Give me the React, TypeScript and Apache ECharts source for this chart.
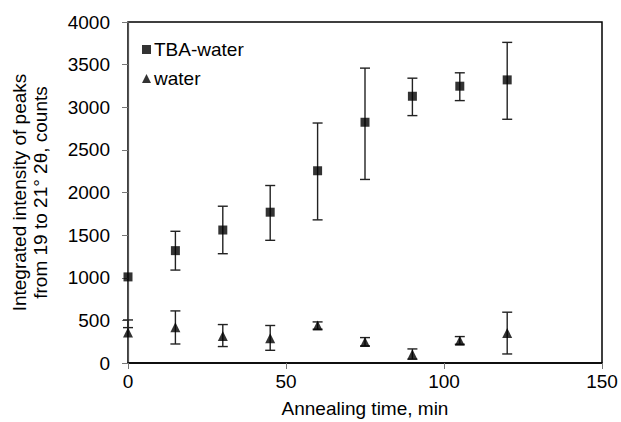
import React, { useEffect, useRef } from "react";
import * as echarts from "echarts";

const times = [0, 15, 30, 45, 60, 75, 90, 105, 120];
const tbaValues = [1010, 1318, 1560, 1769, 2255, 2824, 3129, 3247, 3321];
const tbaLow = [null, 1090, 1282, 1439, 1679, 2153, 2902, 3078, 2859];
const tbaHigh = [null, 1545, 1839, 2082, 2815, 3459, 3341, 3404, 3761];
const waterValues = [357, 420, 316, 290, 440, 247, 102, 262, 353];
const waterLow = [415, 223, 193, 149, 396, 200, 44, 220, 106];
const waterHigh = [505, 611, 451, 440, 482, 298, 165, 310, 596];
const xTicks = [0, 50, 100, 150];

const FONT = "Liberation Sans, Arial, sans-serif";
const FS = 19;

function errData(low: (number | null)[], high: (number | null)[]) {
  const out: number[][] = [];
  times.forEach((t, i) => {
    if (low[i] != null && high[i] != null) out.push([t, low[i] as number, high[i] as number]);
  });
  return out;
}

function errRender(params: any, api: any) {
  const x = api.value(0);
  const lo = api.coord([x, api.value(1)]);
  const hi = api.coord([x, api.value(2)]);
  const w = 5;
  const style = { stroke: "#222", lineWidth: 1.4 };
  return {
    type: "group",
    children: [
      { type: "line", shape: { x1: lo[0], y1: lo[1], x2: hi[0], y2: hi[1] }, style },
      { type: "line", shape: { x1: lo[0] - w, y1: lo[1], x2: lo[0] + w, y2: lo[1] }, style },
      { type: "line", shape: { x1: hi[0] - w, y1: hi[1], x2: hi[0] + w, y2: hi[1] }, style },
    ],
  };
}

export default function App() {
  const ref = useRef<HTMLDivElement>(null);
  useEffect(() => {
    const chart = echarts.init(ref.current!, null, { renderer: "svg" });
    chart.setOption({
      animation: false,
      backgroundColor: "#fff",
      textStyle: { fontFamily: FONT },
      grid: {
        left: 128,
        right: 19,
        top: 22,
        bottom: 59,
        show: true,
        borderColor: "#000",
        borderWidth: 1.5,
        containLabel: false,
        outerBoundsMode: "none",
      },
      legend: {
        left: 137,
        top: 35,
        orient: "vertical",
        itemGap: 10,
        itemWidth: 9,
        itemHeight: 9,
        textStyle: { fontSize: FS, color: "#000", fontFamily: FONT, padding: [0, 0, 0, -2] },
        data: [
          { name: "TBA-water", icon: "rect" },
          { name: "water", icon: "triangle" },
        ],
      },
      xAxis: {
        type: "value",
        min: 0,
        max: 150,
        interval: 50,
        name: "Annealing time, min",
        nameLocation: "middle",
        nameGap: 36,
        nameTextStyle: { fontSize: FS, color: "#000", fontFamily: FONT },
        axisLine: { show: true, onZero: false, lineStyle: { color: "#000", width: 1.5 } },
        axisTick: { show: true, inside: false, length: 6, lineStyle: { color: "#777" } },
        axisLabel: {
          fontSize: FS,
          color: "#000",
          margin: 9,
          fontFamily: FONT,
          customValues: xTicks,
          formatter: (v: number) => String(v),
        },
        splitLine: { show: false },
      },
      yAxis: {
        type: "value",
        min: 0,
        max: 4000,
        interval: 500,
        name: "Integrated intensity of peaks\nfrom 19 to 21° 2θ, counts",
        nameLocation: "middle",
        nameGap: 77,
        nameTextStyle: { fontSize: FS, color: "#000", fontFamily: FONT, lineHeight: 21 },
        axisLine: { show: true, onZero: false, lineStyle: { color: "#555", width: 1.2 } },
        axisTick: { show: true, inside: false, length: 6, lineStyle: { color: "#777" } },
        axisLabel: {
          fontSize: FS,
          color: "#000",
          margin: 18,
          fontFamily: FONT,
          formatter: (v: number) => String(v),
        },
        splitLine: { show: false },
      },
      series: [
        {
          type: "custom",
          name: "tbaErr",
          renderItem: errRender,
          data: errData(tbaLow, tbaHigh),
          encode: { x: 0, y: [1, 2] },
          z: 1,
          silent: true,
        },
        {
          type: "custom",
          name: "waterErr",
          renderItem: errRender,
          data: errData(waterLow, waterHigh),
          encode: { x: 0, y: [1, 2] },
          z: 1,
          silent: true,
        },
        {
          type: "scatter",
          name: "TBA-water",
          symbol: "rect",
          symbolSize: 9,
          itemStyle: { color: "#000" },
          data: times.map((t, i) => [t, tbaValues[i]]),
          z: 3,
        },
        {
          type: "scatter",
          name: "water",
          symbol: "triangle",
          symbolSize: 10,
          itemStyle: { color: "#000" },
          data: times.map((t, i) => [t, waterValues[i]]),
          z: 3,
        },
      ],
    });
    return () => chart.dispose();
  }, []);
  return <div ref={ref} style={{ width: 621, height: 422, position: "absolute", left: 0, top: 0 }} />;
}
